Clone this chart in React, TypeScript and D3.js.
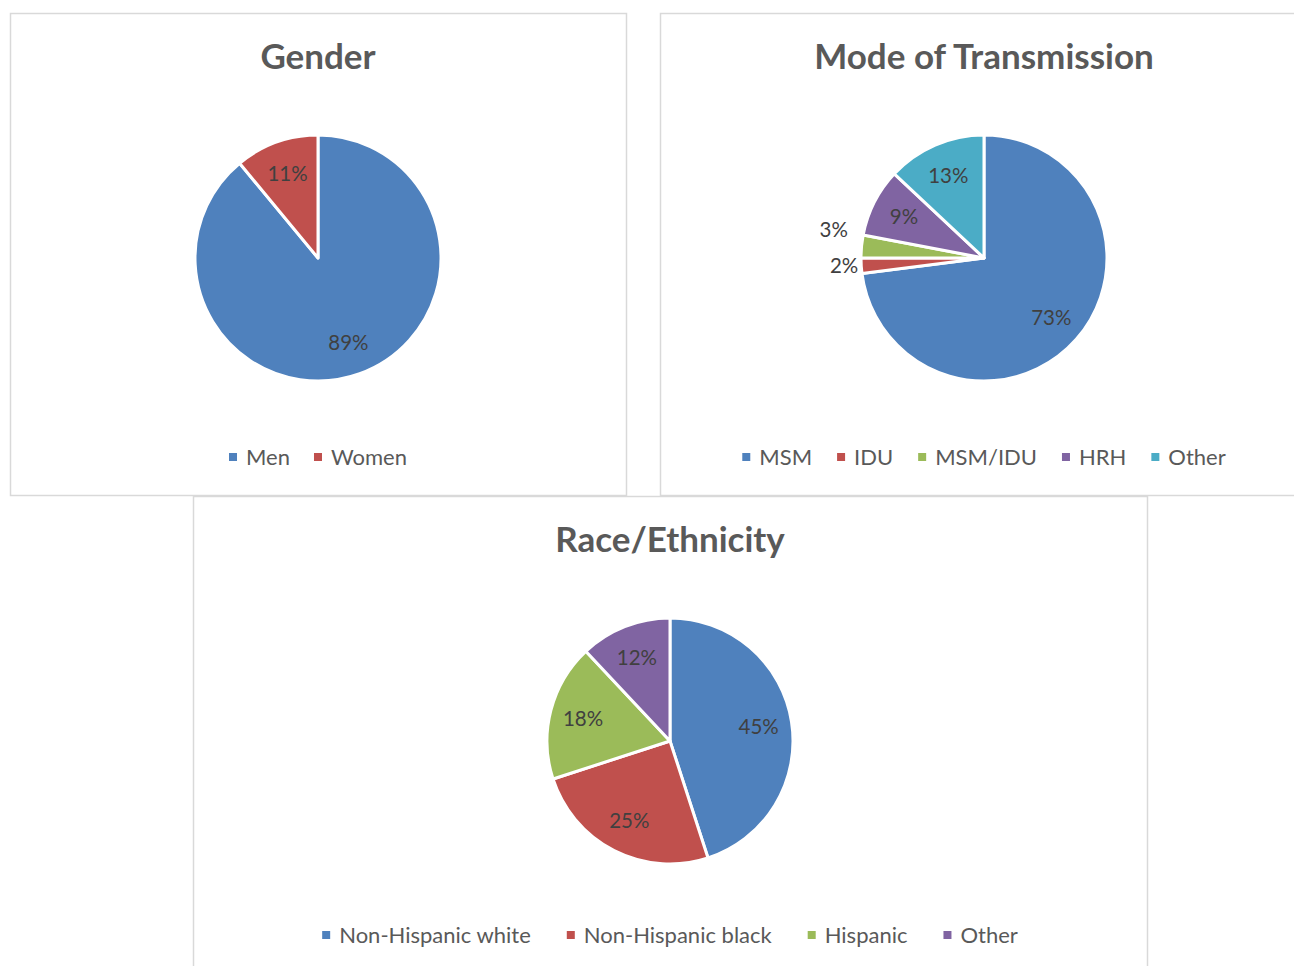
import { useRef, useEffect } from "react";
import * as d3 from "d3";

const WIDTH = 1294;
const HEIGHT = 966;

const COLORS = ["#4f81bd", "#c0504d", "#9bbb59", "#8064a2", "#4bacc6"];
const TEXT = "#595959";
const LABEL = "#404040";
const FONT = "Lato, 'Open Sans', sans-serif";

const genderLabels = ["Men", "Women"];
const genderValues = [89, 11];

const modeLabels = ["MSM", "IDU", "MSM/IDU", "HRH", "Other"];
const modeValues = [73, 2, 3, 9, 13];

const raceLabels = ["Non-Hispanic white", "Non-Hispanic black", "Hispanic", "Other"];
const raceValues = [45, 25, 18, 12];

interface Panel {
  title: string;
  labels: string[];
  values: number[];
  x: number;
  y: number;
  w: number;
  h: number;
  gap: number;
}

const panels: Panel[] = [
  { title: "Gender", labels: genderLabels, values: genderValues, x: 10, y: 13, w: 616, h: 482, gap: 24 },
  { title: "Mode of Transmission", labels: modeLabels, values: modeValues, x: 660, y: 13, w: 648, h: 482, gap: 25 },
  { title: "Race/Ethnicity", labels: raceLabels, values: raceValues, x: 193, y: 496, w: 954, h: 480, gap: 36 },
];

const RADIUS = 123;

export default function App() {
  const svgRef = useRef<SVGSVGElement>(null);

  useEffect(() => {
    const svg = d3.select(svgRef.current);
    svg.selectAll("*").remove();

    for (const p of panels) {
      const g = svg.append("g").attr("transform", `translate(${p.x},${p.y})`);
      const cx = p.w / 2;

      // frame
      g.append("rect")
        .attr("x", 0.5)
        .attr("y", 0.5)
        .attr("width", p.w)
        .attr("height", p.h)
        .attr("fill", "#fff")
        .attr("stroke", "#d9d9d9")
        .attr("stroke-width", 1.5);

      g.append("text")
        .attr("x", cx)
        .attr("y", 56)
        .attr("text-anchor", "middle")
        .attr("font-family", FONT)
        .attr("font-weight", 700)
        .attr("font-size", 35)
        .attr("fill", TEXT)
        .text(p.title);

      const cy = 245;
      const pieG = g.append("g").attr("transform", `translate(${cx},${cy})`);
      const pie = d3.pie<number>().sort(null).value((d) => d);
      const arcs = pie(p.values);
      const arc = d3.arc<d3.PieArcDatum<number>>().innerRadius(0).outerRadius(RADIUS);

      pieG.selectAll("path")
        .data(arcs)
        .join("path")
        .attr("d", arc)
        .attr("fill", (_, i) => COLORS[i])
        .attr("stroke", "#fff")
        .attr("stroke-width", 3)
        .attr("stroke-linejoin", "round");

      // data labels: inside for big slices, outside for small ones
      let prevY: number | null = null;
      for (const a of arcs) {
        const mid = (a.startAngle + a.endAngle) / 2;
        const pct = `${a.data}%`;
        if (a.data >= 5) {
          const r = RADIUS * 0.73;
          pieG.append("text")
            .attr("x", r * Math.sin(mid))
            .attr("y", -r * Math.cos(mid))
            .attr("dy", "0.35em")
            .attr("text-anchor", "middle")
            .attr("font-family", FONT)
            .attr("font-size", 20.5)
            .attr("fill", LABEL)
            .text(pct);
        } else {
          let r = RADIUS + 3;
          let y = -r * Math.cos(mid);
          if (prevY !== null && prevY - y < 30) {
            y = prevY - 36;
            r = RADIUS + 16;
          }
          const x = -Math.sqrt(Math.max(r * r - y * y, 0));
          pieG.append("text")
            .attr("x", x)
            .attr("y", y)
            .attr("dy", "0.35em")
            .attr("text-anchor", "end")
            .attr("font-family", FONT)
            .attr("font-size", 20.5)
            .attr("fill", LABEL)
            .text(pct);
          prevY = y;
        }
      }

      // legend, centred
      const leg = g.append("g");
      const items = p.labels.map((l, i) => {
        const it = leg.append("g");
        it.append("rect")
          .attr("x", 0)
          .attr("y", -4)
          .attr("width", 8)
          .attr("height", 8)
          .attr("fill", COLORS[i]);
        const t = it.append("text")
          .attr("x", 17)
          .attr("dy", "0.35em")
          .attr("font-family", FONT)
          .attr("font-size", 22)
          .attr("fill", TEXT)
          .text(l);
        const w = 17 + (t.node() as SVGTextElement).getComputedTextLength();
        return { it, w };
      });
      const total = d3.sum(items, (d) => d.w) + p.gap * (items.length - 1);
      let lx = cx - total / 2;
      for (const { it, w } of items) {
        it.attr("transform", `translate(${lx},0)`);
        lx += w + p.gap;
      }
      leg.attr("transform", `translate(0,${p.h - (p.y > 100 ? 41 : 38)})`);
    }
  }, []);

  return (
    <svg
      ref={svgRef}
      width={WIDTH}
      height={HEIGHT}
      style={{ position: "absolute", left: 0, top: 0, background: "#fff" }}
    />
  );
}
